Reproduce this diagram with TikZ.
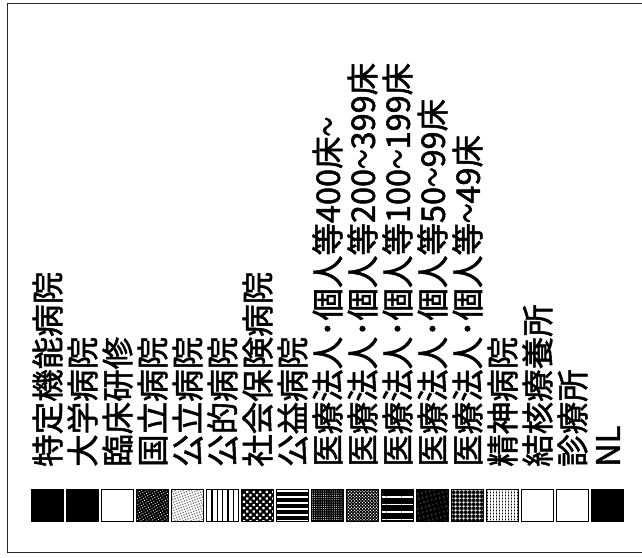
\documentclass[tikz,border=0pt]{standalone}
\usepackage{fontspec}
\setmainfont{Noto Sans CJK JP}[FakeBold=1.6]
\usetikzlibrary{patterns.meta}
\newcommand\nami{\scalebox{0.6}[1]{～}}
\tikzset{
  legbox/.style={draw, line width=1pt, minimum width=31.6pt, minimum height=32.4pt, inner sep=0pt},
  legtext/.style={anchor=west, rotate=90, inner sep=0pt, text height=28.6pt, text depth=3.9pt,
    font=\fontsize{32.5}{33}\selectfont},
  onblack/.style={preaction={fill=black}, pattern color=white},
  solidk/.style={fill=black},
  solidw/.style={fill=white},
  darkspeck/.style={onblack, pattern={Dots[radius=0.6pt, distance=2.6pt, angle=30]}},
  lightspeck/.style={pattern={Dots[radius=0.8pt, distance=2.6pt, angle=20]}, pattern color=black!60},
  vlines/.style={pattern={Lines[angle=90, distance=5.3pt, line width=1.3pt]}, pattern color=black},
  bigdots/.style={onblack, pattern={Dots[radius=1.5pt, distance=4.6pt, angle=45]}},
  hlines/.style={onblack, pattern={Lines[angle=0, distance=6pt, line width=1.2pt]}},
  finespeck/.style={onblack, pattern={Dots[radius=0.5pt, distance=2.2pt]}},
  midspeck/.style={onblack, pattern={Dots[radius=0.75pt, distance=2.2pt, angle=45]}},
  widelines/.style={onblack, pattern={Lines[angle=0, distance=7.5pt, line width=1.5pt]}},
  sparsespeck/.style={onblack, pattern={Dots[radius=0.55pt, distance=4pt, angle=15]}},
  coarsegrid/.style={onblack, pattern={Hatch[distance=4pt, line width=0.9pt]}},
  finegrid/.style={onblack, pattern={Hatch[distance=3pt, line width=1.1pt]}}
}
\begin{document}
\begin{tikzpicture}[x=1pt, y=1pt]
  \useasboundingbox (0,0) rectangle (642,557);
  \draw[line width=1.2pt, black!85] (7.5,4.3) rectangle (660,553.5);
  \foreach \lab/\sty [count=\i from 0] in {
      特定機能病院/solidk, 大学病院/solidk, 臨床研修/solidw, 国立病院/darkspeck,
      公立病院/lightspeck, 公的病院/vlines, 社会保険病院/bigdots, 公益病院/hlines,
      医療法人･個人等400床\nami/finespeck, 医療法人･個人等200\nami399床/midspeck,
      医療法人･個人等100\nami199床/widelines, 医療法人･個人等50\nami99床/sparsespeck,
      医療法人･個人等\nami49床/coarsegrid, 精神病院/finegrid, 結核療養所/solidw,
      診療所/solidw, NL/solidk}
    \node[legbox, \sty] (box\i) at ({47.5+35*\i}, 51.5) {}
     node[legtext] (lab\i) at ({47.5+35*\i}, 90) {\lab};
\end{tikzpicture}
\end{document}
